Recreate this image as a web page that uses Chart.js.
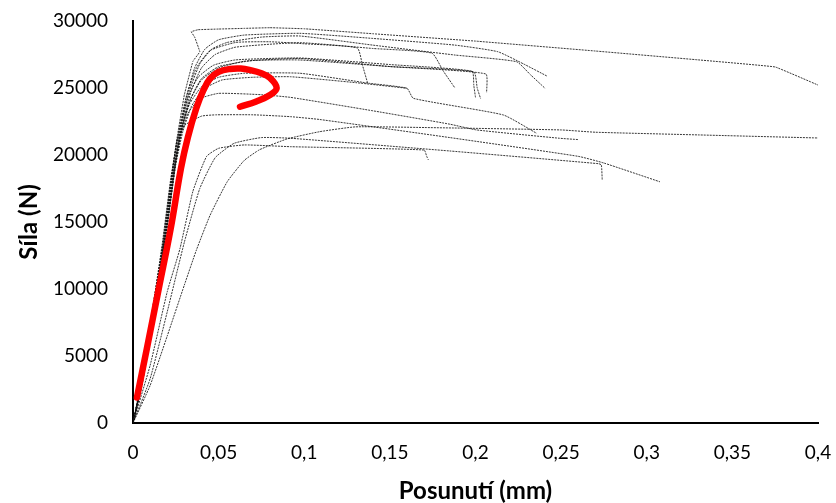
<!DOCTYPE html>
<html>
<head>
<meta charset="utf-8">
<script src="https://cdn.jsdelivr.net/npm/chart.js@4.4.1/dist/chart.umd.min.js"></script>
<style>
  html, body { margin: 0; padding: 0; background: #fff; }
  #wrap { width: 836px; height: 503px; }
</style>
</head>
<body>
<div id="wrap"><canvas id="chart"></canvas></div>
<script>
// osy
const xTicks = [0, 0.05, 0.1, 0.15, 0.2, 0.25, 0.3, 0.35, 0.4];
const yTicks = [0, 5000, 10000, 15000, 20000, 25000, 30000];

// zvýrazněná křivka [posunutí mm, síla N]
const redCurve = [[0.0023,1900],[0.008,5500],[0.015,10000],[0.022,14500],[0.028,19000],[0.032,21300],[0.037,23500],[0.041,24800],[0.045,25700],[0.05,26200],[0.0566,26420],[0.063,26450],[0.068,26350],[0.075,26100],[0.08,25750],[0.0839,25000],[0.08,24480],[0.072,24000],[0.0625,23600]];

// jednotlivé zkoušky
const test01 = [[0,0],[0.004,2600],[0.01,7400],[0.017,13000],[0.022,18000],[0.026,21500],[0.03,24500],[0.035,27000],[0.039,27700],[0.036,28800],[0.034,29200],[0.038,29350],[0.05,29400],[0.065,29450],[0.08,29500],[0.1,29420],[0.14,29050],[0.2,28500],[0.27,27760],[0.33,27100],[0.375,26570],[0.4,25220]];
const test02 = [[0,0],[0.004,2400],[0.01,7000],[0.018,13500],[0.023,18500],[0.027,21500],[0.031,24200],[0.036,26500],[0.042,27900],[0.05,28600],[0.065,28950],[0.0975,29080],[0.14,28700],[0.188,28200],[0.213,27710],[0.228,26800],[0.2416,25900]];
const test03 = [[0,0],[0.005,2800],[0.011,7600],[0.019,14000],[0.024,19000],[0.028,22000],[0.033,24800],[0.039,26800],[0.046,27900],[0.055,28400],[0.075,28800],[0.0975,28880],[0.14,28200],[0.188,27460],[0.224,26960],[0.232,26000],[0.2406,24980]];
const test04 = [[0,0],[0.005,2700],[0.012,8000],[0.019,13800],[0.0245,19000],[0.029,22300],[0.034,24800],[0.04,26500],[0.048,27500],[0.06,28050],[0.0975,28380],[0.14,27950],[0.1746,27600],[0.181,26300],[0.188,25000]];
const test05 = [[0,0],[0.004,2500],[0.01,7300],[0.017,13300],[0.022,18200],[0.026,21300],[0.031,24300],[0.037,26500],[0.045,27800],[0.06,28400],[0.08,28450],[0.1,28300],[0.131,27985],[0.134,26700],[0.137,25370]];
const test06 = [[0,0],[0.005,3000],[0.011,8000],[0.018,13800],[0.023,18800],[0.027,21800],[0.032,24300],[0.038,25800],[0.047,26700],[0.06,27100],[0.0975,27240],[0.15,26750],[0.198,26250],[0.199,25200],[0.2,24300]];
const test07 = [[0,0],[0.006,3500],[0.013,9200],[0.02,14800],[0.025,19500],[0.029,22200],[0.034,24300],[0.04,25700],[0.05,26600],[0.07,27050],[0.0975,27090],[0.15,26600],[0.199,26200],[0.201,25000],[0.203,24200]];
const test08 = [[0,0],[0.005,2900],[0.012,8300],[0.019,14000],[0.0245,19200],[0.028,21800],[0.033,24000],[0.04,25600],[0.05,26500],[0.065,27000],[0.0975,27200],[0.15,26600],[0.206,26050],[0.2065,24650]];
const test09 = [[0,0],[0.005,2800],[0.012,8200],[0.019,14200],[0.024,19000],[0.028,21800],[0.033,23800],[0.04,25100],[0.05,25800],[0.065,26100],[0.0975,26100],[0.138,25350],[0.16,24980],[0.1637,24230],[0.2163,22985],[0.2357,21620]];
const test10 = [[0,0],[0.006,3300],[0.013,9000],[0.02,14700],[0.025,19300],[0.029,21700],[0.034,23600],[0.041,24900],[0.052,25600],[0.07,25800],[0.092,25840],[0.13,25400],[0.16,24980]];
const test11 = [[0,0],[0.005,3000],[0.012,8400],[0.018,13300],[0.023,18000],[0.027,21000],[0.032,23100],[0.039,24200],[0.05,24600],[0.075,24500],[0.092,24300],[0.14,23300],[0.185,22300],[0.2007,21870],[0.249,21250],[0.26,21150]];
const test12 = [[0,0],[0.005,3000],[0.012,8500],[0.019,14500],[0.0255,21000],[0.03,22200],[0.04,22900],[0.049,23000],[0.07,23000],[0.092,22860],[0.109,22650],[0.185,21300],[0.26,19900],[0.275,19400],[0.3077,18000]];
const test13 = [[0,0],[0.01,2800],[0.02,6500],[0.03,10300],[0.037,12900],[0.045,15500],[0.055,18000],[0.065,19600],[0.074,20400],[0.09,21200],[0.109,21740],[0.13,22100],[0.17,22050],[0.25,21870],[0.27,21700],[0.33,21500],[0.4,21270]];
const test14 = [[0,0],[0.01,3300],[0.02,8300],[0.03,13500],[0.039,17500],[0.048,19800],[0.059,20870],[0.075,21300],[0.092,21250],[0.185,20300],[0.272,19350],[0.2735,19250],[0.274,18130]];
const test15 = [[0,0],[0.01,4300],[0.02,9800],[0.0274,13000],[0.035,17300],[0.043,19900],[0.05,20500],[0.065,20750],[0.092,20620],[0.17,20370],[0.1715,19900],[0.1725,19630]];

const tests = [test01, test02, test03, test04, test05, test06, test07, test08,
  test09, test10, test11, test12, test13, test14, test15];

const FONT = "Lato, 'Open Sans', sans-serif";

function toPoints(arr) {
  return arr.map(p => ({ x: p[0], y: p[1] }));
}

function czNum(v) {
  return String(Math.round(v * 1000) / 1000).replace(".", ",");
}

const datasets = [
  {
    data: toPoints(redCurve),
    borderColor: "#ff0000",
    borderWidth: 6.5,
    borderCapStyle: "round",
    borderJoinStyle: "round",
    tension: 0.4,
  },
].concat(tests.map((t, i) => ({
  data: toPoints(t),
  borderColor: "rgba(20,20,20,0.85)",
  borderWidth: 1,
  borderDash: [2, 1],
  tension: i === 0 ? 0.05 : 0.15,
})));

new Chart(document.getElementById("chart"), {
  type: "scatter",
  data: { datasets },
  options: {
    responsive: true,
    maintainAspectRatio: false,
    animation: false,
    showLine: true,
    elements: { point: { radius: 0, hoverRadius: 0 } },
    layout: { padding: { top: 21, right: 18, left: 0, bottom: 0 } },
    plugins: { legend: { display: false }, tooltip: { enabled: false } },
    scales: {
      x: {
        type: "linear",
        min: 0,
        max: 0.4,
        afterBuildTicks: s => { s.ticks = xTicks.map(v => ({ value: v })); },
        afterFit: s => { s.height = 80; s.paddingLeft = 0; s.paddingRight = 0; },
        grid: { display: false, drawTicks: false },
        border: { display: true, color: "#000", width: 2 },
        ticks: {
          color: "#000",
          padding: 18,
          maxRotation: 0,
          autoSkip: false,
          font: { family: FONT, size: 19 },
          callback: v => czNum(v),
        },
        title: {
          display: true,
          text: "Posunutí (mm)",
          color: "#000",
          font: { family: FONT, size: 24, weight: "bold", lineHeight: 1 },
          padding: { top: 4, bottom: 0 },
        },
      },
      y: {
        type: "linear",
        min: 0,
        max: 30000,
        afterBuildTicks: s => { s.ticks = yTicks.map(v => ({ value: v })); },
        afterFit: s => { s.width = 133; s.paddingTop = 0; s.paddingBottom = 0; },
        grid: { display: false, drawTicks: false },
        border: { display: true, color: "#000", width: 2 },
        ticks: {
          color: "#000",
          padding: 25,
          autoSkip: false,
          font: { family: FONT, size: 19 },
          callback: v => String(v),
        },
        title: {
          display: true,
          text: "Síla (N)",
          color: "#000",
          font: { family: FONT, size: 24, weight: "bold", lineHeight: 1 },
          padding: { top: 17, bottom: 4 },
        },
      },
    },
  },
});
</script>
</body>
</html>
